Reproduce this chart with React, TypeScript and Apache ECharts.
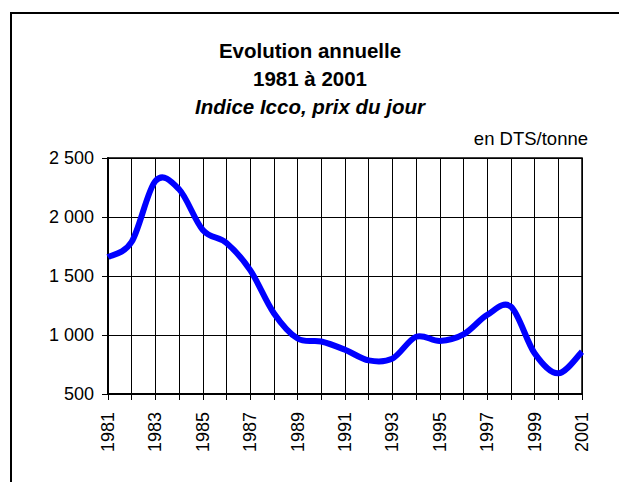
import React, { useEffect, useRef } from "react";
import * as echarts from "echarts";

const years = ["1981","1982","1983","1984","1985","1986","1987","1988","1989","1990","1991","1992","1993","1994","1995","1996","1997","1998","1999","2000","2001"];
const prices = [1660, 1790, 2305, 2235, 1890, 1780, 1550, 1185, 970, 945, 875, 785, 800, 985, 950, 1005, 1170, 1240, 845, 675, 858];
const titleLines = ["Evolution annuelle", "1981 à 2001", "Indice Icco, prix du jour"];
const unitLabel = "en DTS/tonne";

const FONT = "'Liberation Sans', Arial, sans-serif";

function fmt(v: number): string {
  const s = String(v);
  return s.length > 3 ? s.slice(0, s.length - 3) + " " + s.slice(s.length - 3) : s;
}

export default function App() {
  const ref = useRef<HTMLDivElement>(null);
  useEffect(() => {
    if (!ref.current) return;
    const chart = echarts.init(ref.current, null, { renderer: "svg" });
    chart.setOption({
      animation: false,
      backgroundColor: "#ffffff",
      textStyle: { fontFamily: FONT },
      grid: {
        left: 108, top: 158, right: 37, bottom: 88,
        containLabel: false,
        outerBoundsMode: "none",
        show: true,
        borderColor: "#000",
        borderWidth: 1.5,
      },
      xAxis: {
        type: "category",
        data: years,
        boundaryGap: false,
        axisLine: { show: true, lineStyle: { color: "#000", width: 2 } },
        axisTick: { show: true, length: 6, interval: 0, lineStyle: { color: "#000", width: 1 } },
        axisLabel: {
          interval: 1,
          rotate: 90,
          margin: 18,
          color: "#000",
          fontSize: 18,
          fontFamily: FONT,
        },
        splitLine: { show: true, interval: 0, lineStyle: { color: "#000", width: 1 } },
      },
      yAxis: {
        type: "value",
        min: 500,
        max: 2500,
        interval: 500,
        axisLine: { show: true, lineStyle: { color: "#000", width: 2 } },
        axisTick: { show: true, length: 6, lineStyle: { color: "#000", width: 1 } },
        axisLabel: {
          margin: 14,
          color: "#000",
          fontSize: 18,
          fontFamily: FONT,
          formatter: (v: number) => fmt(v),
        },
        splitLine: { show: true, lineStyle: { color: "#000", width: 1 } },
      },
      series: [
        {
          type: "custom",
          data: prices.map((v, i) => [i, v]),
          clip: false,
          renderItem: (params: any, api: any) => {
            if (params.dataIndex !== 0) return null;
            const pts = prices.map((v, i) => api.coord([i, v]));
            const n = pts.length;
            let d = `M${pts[0][0]},${pts[0][1]}`;
            for (let i = 0; i < n - 1; i++) {
              const p0 = pts[i - 1] || pts[i];
              const p1 = pts[i];
              const p2 = pts[i + 1];
              const p3 = pts[i + 2] || pts[i + 1];
              const c1x = p1[0] + (p2[0] - p0[0]) / 6;
              const c1y = p1[1] + (p2[1] - p0[1]) / 6;
              const c2x = p2[0] - (p3[0] - p1[0]) / 6;
              const c2y = p2[1] - (p3[1] - p1[1]) / 6;
              d += ` C${c1x},${c1y} ${c2x},${c2y} ${p2[0]},${p2[1]}`;
            }
            return {
              type: "path",
              shape: { pathData: d },
              style: { fill: "none", stroke: "#0000ff", lineWidth: 6, lineJoin: "round", lineCap: "butt" },
            };
          },
        },
      ],
      graphic: [
        {
          type: "rect",
          shape: { x: 11, y: 13, width: 700, height: 600 },
          style: { fill: "none", stroke: "#000", lineWidth: 2 },
          silent: true,
        },
        {
          type: "text",
          x: 310, y: 50,
          style: { text: titleLines[0], font: `bold 20.5px ${FONT}`, fill: "#000", align: "center", verticalAlign: "middle" },
        },
        {
          type: "text",
          x: 310, y: 78,
          style: { text: titleLines[1], font: `bold 20.5px ${FONT}`, fill: "#000", align: "center", verticalAlign: "middle" },
        },
        {
          type: "text",
          x: 310, y: 106,
          style: { text: titleLines[2], font: `italic bold 20.5px ${FONT}`, fill: "#000", align: "center", verticalAlign: "middle" },
        },
        {
          type: "text",
          x: 588, y: 138,
          style: { text: unitLabel, font: `18.5px ${FONT}`, fill: "#000", align: "right", verticalAlign: "middle" },
        },
      ],
    });
    return () => chart.dispose();
  }, []);
  return (
    <div
      ref={ref}
      style={{ position: "fixed", left: 0, top: 0, width: 619, height: 482, background: "#fff" }}
    />
  );
}
